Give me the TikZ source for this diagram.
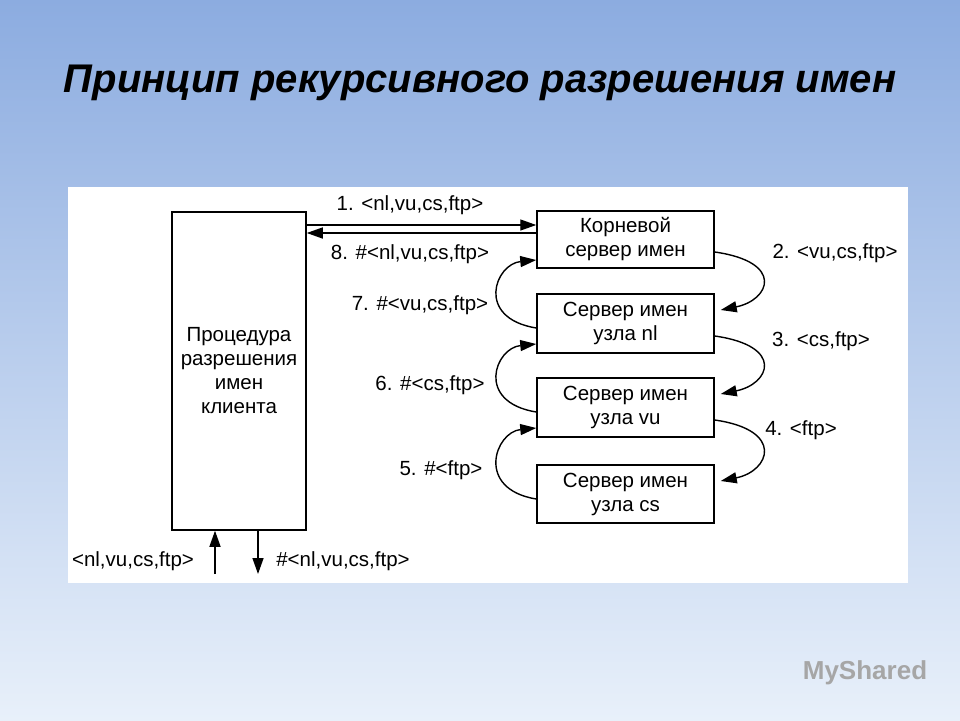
\documentclass[tikz,border=0pt]{standalone}
\usepackage{fontspec}
\setmainfont{Liberation Sans}
\usetikzlibrary{arrows.meta}
\tikzset{
 srv/.style={draw,line width=1.5pt,fill=white,minimum width=177pt,minimum height=58pt,align=center,font=\fontsize{20.5}{24}\selectfont,inner sep=0pt},
 lbl/.style={font=\fontsize{20.5}{24}\selectfont},
 arr/.style={line width=1.4pt,-{Triangle[length=16pt,width=11pt]}},
}
\begin{document}
\begin{tikzpicture}[x=1pt,y=-1pt]
\shade[top color={rgb,255:red,140;green,172;blue,224},bottom color={rgb,255:red,232;green,240;blue,250}] (0,0) rectangle (960,720);
\useasboundingbox (0,0) rectangle (960,720);
\fill[white] (68,187) rectangle (908,583);
\node[font=\fontsize{40}{44}\selectfont\bfseries\itshape] (title) at (480,83) {Принцип рекурсивного разрешения имен};
\node[srv,minimum width=134pt,minimum height=318pt] (cl) at (239,371) {Процедура\\разрешения\\имен\\клиента};
\node[srv,minimum height=57pt] (root) at (625.5,239.5) {Корневой\\сервер имен};
\node[srv,minimum height=59pt] (nl) at (625.5,323.5) {Сервер имен\\узла nl};
\node[srv,minimum height=59pt] (vu) at (625.5,407.5) {Сервер имен\\узла vu};
\node[srv,minimum height=58pt] (cs) at (625.5,494) {Сервер имен\\узла cs};
\draw[arr] (cl.east |- 0,225) -- (root.west |- 0,225);
\draw[arr] (root.west |- 0,233) -- (cl.east |- 0,233);
\node[lbl] (l1) at (410,205) {1. <nl,vu,cs,ftp>};
\node[lbl] (l8) at (410,254) {8. \#<nl,vu,cs,ftp>};
\draw[arr] (root.east |- 0,252) .. controls (785,262) and (770,300) .. ([xshift=6pt]nl.east |- 0,310);
\draw[arr] (nl.east |- 0,336) .. controls (785,346) and (770,384) .. ([xshift=6pt]vu.east |- 0,394);
\draw[arr] (vu.east |- 0,420) .. controls (785,430) and (770,471) .. ([xshift=6pt]cs.east |- 0,481);
\draw[arr] (nl.west |- 0,328) .. controls (475,318) and (495,264) .. (root.west |- 0,260);
\draw[arr] (vu.west |- 0,412) .. controls (475,402) and (495,348) .. (nl.west |- 0,344);
\draw[arr] (cs.west |- 0,499) .. controls (475,489) and (495,432) .. (vu.west |- 0,428);
\node[lbl] (l2) at (835,253) {2. <vu,cs,ftp>};
\node[lbl] (l3) at (821,341) {3. <cs,ftp>};
\node[lbl] (l4) at (801,430) {4. <ftp>};
\node[lbl] (l7) at (420,305) {7. \#<vu,cs,ftp>};
\node[lbl] (l6) at (430,385) {6. \#<cs,ftp>};
\node[lbl] (l5) at (441,470) {5. \#<ftp>};
\coordinate (u0) at (215,574);
\coordinate (d1) at (258,574);
\draw[arr] (u0) -- (cl.south -| u0);
\draw[arr] (cl.south -| d1) -- (d1);
\node[lbl] (in) at (133,561) {<nl,vu,cs,ftp>};
\node[lbl] (out) at (343,561) {\#<nl,vu,cs,ftp>};
\node[font=\fontsize{26}{28}\selectfont\bfseries,text=gray!70] (logo) at (865,673) {MyShared};
\end{tikzpicture}
\end{document}
